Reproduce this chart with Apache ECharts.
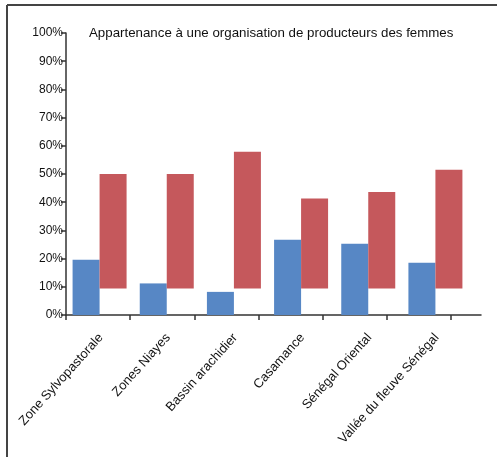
<!DOCTYPE html>
<html>
<head>
<meta charset="utf-8">
<script src="https://cdn.jsdelivr.net/npm/echarts@6/dist/echarts.min.js"></script>
<style>
html,body{margin:0;padding:0;background:#fff;}
#chart{width:497px;height:457px;}
</style>
</head>
<body>
<div id="chart"></div>
<script>
const categories = ['Zone Sylvopastorale', 'Zones Niayes', 'Bassin arachidier', 'Casamance', 'Sénégal Oriental', 'Vallée du fleuve Sénégal'];
const blueValues = [19.6, 11.2, 8.2, 26.7, 25.3, 18.5];
const redBase = [9.4, 9.4, 9.4, 9.4, 9.4, 9.4];
const redTop = [50.0, 50.0, 57.9, 41.3, 43.6, 51.5];
const yTicks = [0, 10, 20, 30, 40, 50, 60, 70, 80, 90, 100];
const titleText = 'Appartenance à une organisation de producteurs des femmes';

const FONT = '"Liberation Sans", Arial, Helvetica, sans-serif';
const chart = echarts.init(document.getElementById('chart'), null, {renderer: 'canvas'});

const redSpan = redTop.map((v, i) => +(v - redBase[i]).toFixed(2));

const option = {
  animation: false,
  backgroundColor: '#ffffff',
  title: {
    text: titleText,
    left: 89, top: 27, padding: 0,
    textStyle: {fontFamily: FONT, fontSize: 13.3, fontWeight: 'normal', color: '#111'}
  },
  graphic: [
    {type: 'line', shape: {x1: 7, y1: 5, x2: 497, y2: 5}, style: {stroke: '#444', lineWidth: 2}},
    {type: 'line', shape: {x1: 7, y1: 5, x2: 7, y2: 457}, style: {stroke: '#444', lineWidth: 2}}
  ],
  grid: [
    {left: 66, top: 33, bottom: 142, width: 403},
    {left: 66, top: 33, bottom: 142, width: 415},
    {left: 66, top: 33, bottom: 142, width: 385}
  ],
  xAxis: [
    {
      type: 'category', gridIndex: 0, data: categories,
      axisLine: {show: false}, axisTick: {show: false},
      axisLabel: {rotate: 48, interval: 0, margin: 22, padding: [0, -2, 0, 0],
        fontFamily: FONT, fontSize: 13, color: '#111'}
    },
    {
      type: 'value', gridIndex: 1, min: 0, max: 1,
      axisLine: {show: true, lineStyle: {color: '#333', width: 1.5}},
      axisTick: {show: false}, axisLabel: {show: false}, splitLine: {show: false}
    },
    {
      type: 'category', gridIndex: 2, data: ['', '', '', '', '', ''], boundaryGap: true,
      axisLine: {show: false},
      axisTick: {show: true, length: 5, inside: false, lineStyle: {color: '#333', width: 1.5}},
      axisLabel: {show: false}, splitLine: {show: false}
    }
  ],
  yAxis: [
    {
      type: 'value', gridIndex: 0, min: 0, max: 100, interval: 10,
      axisLine: {show: true, lineStyle: {color: '#333', width: 1.5}},
      axisTick: {show: true, length: 5, lineStyle: {color: '#333', width: 1.5}},
      axisLabel: {margin: 3, fontFamily: FONT, fontSize: 12, color: '#111',
        formatter: v => yTicks.includes(v) ? v + '%' : ''},
      splitLine: {show: false}
    },
    {type: 'value', gridIndex: 1, min: 0, max: 100, show: false},
    {type: 'value', gridIndex: 2, min: 0, max: 100, show: false}
  ],
  series: [
    {
      type: 'bar', name: 'blue', xAxisIndex: 0, yAxisIndex: 0,
      data: blueValues, barWidth: 27, barGap: '0%',
      itemStyle: {color: '#5787c5'}
    },
    {
      type: 'bar', name: 'base', stack: 'red', xAxisIndex: 0, yAxisIndex: 0,
      data: redBase, barWidth: 27,
      itemStyle: {color: 'rgba(0,0,0,0)'}, silent: true
    },
    {
      type: 'bar', name: 'red', stack: 'red', xAxisIndex: 0, yAxisIndex: 0,
      data: redSpan, barWidth: 27,
      itemStyle: {color: '#c5585c'}
    }
  ]
};
chart.setOption(option);
</script>
</body>
</html>
